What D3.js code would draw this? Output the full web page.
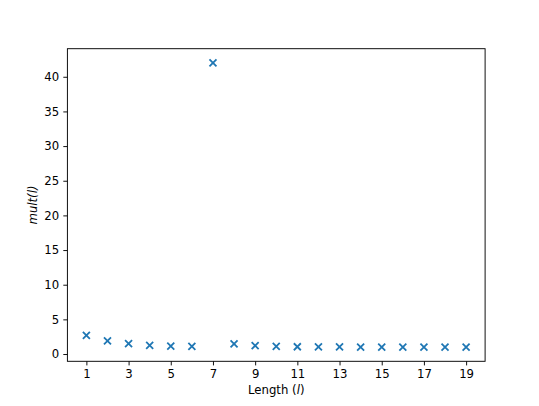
<!DOCTYPE html>
<html>
<head>
<meta charset="utf-8">
<script src="https://cdn.jsdelivr.net/npm/d3@7"></script>
<style>
  body { margin: 0; background: #fff; }
  svg { display: block; font-family: "DejaVu Sans", sans-serif; }
</style>
</head>
<body>
<div id="root"></div>
<script>
// data
const lengths = [1, 2, 3, 4, 5, 6, 7, 8, 9, 10, 11, 12, 13, 14, 15, 16, 17, 18, 19];
const multValues = [2.7, 1.9, 1.5, 1.25, 1.15, 1.1, 42, 1.45, 1.2, 1.1, 1.05, 1.03, 1.02, 1.01, 1, 1, 1, 1, 1];
const xTicks = [1, 3, 5, 7, 9, 11, 13, 15, 17, 19];
const yTicks = [0, 5, 10, 15, 20, 25, 30, 35, 40];

const W = 539, H = 406;
const margin = { left: 67.4, right: 53.9, top: 48.7, bottom: 44.7 };
const fs = 11.7;

const svg = d3.select("#root").append("svg")
  .attr("width", W)
  .attr("height", H);

// matplotlib-like 5% padding
const xMin = d3.min(lengths), xMax = d3.max(lengths);
const yMin = d3.min(multValues), yMax = d3.max(multValues);
const xPad = (xMax - xMin) * 0.05, yPad = (yMax - yMin) * 0.05;

let x = d3.scaleLinear()
  .domain([xMin - xPad, xMax + xPad])
  .range([margin.left, W - margin.right]);
let y = d3.scaleLinear()
  .domain([yMin - yPad, yMax + yPad])
  .range([H - margin.bottom, margin.top]);

let xAxis = d3.axisBottom(x).tickValues(xTicks).tickSize(4.1).tickPadding(4.1).tickFormat(d3.format("d"));
let yAxis = d3.axisLeft(y).tickValues(yTicks).tickSize(4.1).tickPadding(4.1).tickFormat(d3.format("d"));

let gx = svg.append("g")
  .attr("transform", `translate(0,${H - margin.bottom})`)
  .call(xAxis);
let gy = svg.append("g")
  .attr("transform", `translate(${margin.left},0)`)
  .call(yAxis);

[gx, gy].forEach(g => {
  g.select(".domain").remove();
  g.selectAll(".tick line").attr("stroke", "#000").attr("stroke-width", 0.94);
  g.selectAll(".tick text")
    .attr("fill", "#000")
    .style("font-size", fs + "px")
    .style("font-family", "DejaVu Sans");
});

// frame
svg.append("rect")
  .attr("x", margin.left)
  .attr("y", margin.top)
  .attr("width", W - margin.left - margin.right)
  .attr("height", H - margin.top - margin.bottom)
  .attr("fill", "none")
  .attr("stroke", "#000")
  .attr("stroke-width", 0.94);

// x markers
const half = 3.5;
let pts = svg.append("g")
  .selectAll("g")
  .data(lengths.map((l, i) => ({ l: l, v: multValues[i] })))
  .enter()
  .append("path")
  .attr("d", d => {
    let cx = x(d.l), cy = y(d.v);
    return `M${cx - half},${cy - half}L${cx + half},${cy + half}M${cx - half},${cy + half}L${cx + half},${cy - half}`;
  })
  .attr("stroke", "#1f77b4")
  .attr("stroke-width", 1.8)
  .attr("fill", "none");

// axis labels
let xl = svg.append("text")
  .attr("x", (margin.left + W - margin.right) / 2)
  .attr("y", 394)
  .attr("text-anchor", "middle")
  .style("font-size", fs + "px");
xl.append("tspan").text("Length (");
xl.append("tspan").style("font-style", "italic").text("l");
xl.append("tspan").text(")");

svg.append("text")
  .attr("transform", `translate(37,${(margin.top + H - margin.bottom) / 2}) rotate(-90)`)
  .attr("text-anchor", "middle")
  .style("font-size", fs + "px")
  .style("font-style", "italic")
  .text("mult(l)");
</script>
</body>
</html>
